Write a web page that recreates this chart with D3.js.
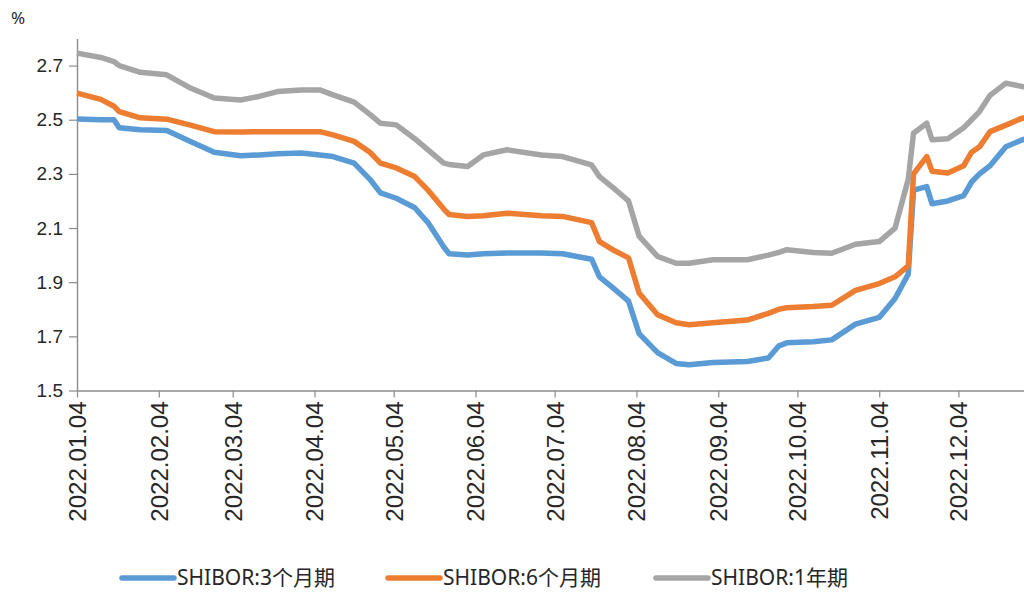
<!DOCTYPE html>
<html>
<head>
<meta charset="utf-8">
<script src="https://cdn.jsdelivr.net/npm/d3@7"></script>
<style>
  body { margin: 0; background: #fff; }
  svg { display: block; font-family: "Noto Sans", "Noto Sans CJK SC", sans-serif; }
</style>
</head>
<body>
<svg id="chart" width="1024" height="594"></svg>
<script>
// observation dates (sampled from the chart)
const dates = [
  "2022-01-04", "2022-01-13", "2022-01-18", "2022-01-20", "2022-01-28", "2022-02-07",
  "2022-02-16", "2022-02-25", "2022-03-07", "2022-03-14", "2022-03-21", "2022-03-30",
  "2022-04-06", "2022-04-11", "2022-04-19", "2022-04-25", "2022-04-29", "2022-05-05",
  "2022-05-12", "2022-05-17", "2022-05-23", "2022-05-25", "2022-06-01", "2022-06-07",
  "2022-06-16", "2022-06-29", "2022-07-07", "2022-07-18", "2022-07-21", "2022-07-26",
  "2022-08-01", "2022-08-05", "2022-08-12", "2022-08-19", "2022-08-24", "2022-09-02",
  "2022-09-15", "2022-09-23", "2022-09-27", "2022-09-30", "2022-10-10", "2022-10-17",
  "2022-10-26", "2022-11-04", "2022-11-10", "2022-11-15", "2022-11-17", "2022-11-22",
  "2022-11-24", "2022-11-30", "2022-12-06", "2022-12-09", "2022-12-12", "2022-12-16",
  "2022-12-22", "2022-12-28", "2022-12-30"
];

const shibor3m = [
  2.503, 2.50, 2.50, 2.47, 2.463, 2.46,
  2.42, 2.38, 2.367, 2.37, 2.374, 2.377,
  2.37, 2.364, 2.34, 2.28, 2.23, 2.21,
  2.175, 2.12, 2.03, 2.005, 2.00, 2.005,
  2.008, 2.008, 2.005, 1.985, 1.92, 1.88,
  1.83, 1.71, 1.64, 1.60, 1.595, 1.603,
  1.607, 1.62, 1.665, 1.676, 1.68, 1.687,
  1.745, 1.77, 1.84, 1.93, 2.24, 2.253,
  2.19, 2.20, 2.22, 2.27, 2.30, 2.33,
  2.40, 2.425, 2.43
];

const shibor6m = [
  2.598, 2.575, 2.55, 2.53, 2.507, 2.502,
  2.48, 2.456, 2.455, 2.456, 2.456, 2.456,
  2.456, 2.444, 2.42, 2.38, 2.34, 2.322,
  2.29, 2.24, 2.17, 2.15, 2.143, 2.145,
  2.155, 2.145, 2.143, 2.12, 2.05, 2.02,
  1.99, 1.86, 1.78, 1.75, 1.743, 1.75,
  1.76, 1.785, 1.80, 1.806, 1.81, 1.815,
  1.87, 1.895, 1.92, 1.96, 2.30, 2.364,
  2.31, 2.303, 2.33, 2.38, 2.40, 2.456,
  2.48, 2.505, 2.51
];

const shibor1y = [
  2.746, 2.73, 2.715, 2.70, 2.675, 2.666,
  2.617, 2.58, 2.573, 2.586, 2.604, 2.61,
  2.61, 2.592, 2.565, 2.52, 2.487, 2.481,
  2.43, 2.389, 2.34, 2.335, 2.327, 2.37,
  2.389, 2.37, 2.364, 2.333, 2.29, 2.25,
  2.20, 2.07, 1.995, 1.97, 1.97, 1.983,
  1.983, 2.00, 2.01, 2.02, 2.01, 2.007,
  2.04, 2.05, 2.10, 2.28, 2.45, 2.487,
  2.426, 2.43, 2.47, 2.50, 2.53, 2.59,
  2.635, 2.623, 2.62
];

const xTickLabels = [
  "2022.01.04", "2022.02.04", "2022.03.04", "2022.04.04", "2022.05.04", "2022.06.04",
  "2022.07.04", "2022.08.04", "2022.09.04", "2022.10.04", "2022.11.04", "2022.12.04"
];
const yTicks = [1.5, 1.7, 1.9, 2.1, 2.3, 2.5, 2.7];

const seriesNames = ["SHIBOR:3个月期", "SHIBOR:6个月期", "SHIBOR:1年期"];
const seriesColors = ["#5b9bd5", "#ed7d31", "#a5a5a5"];

const parseDate = d3.timeParse("%Y-%m-%d");
const parseTick = d3.timeParse("%Y.%m.%d");

const svg = d3.select("#chart");

const x = d3.scaleTime()
  .domain([parseDate("2022-01-04"), parseDate("2022-12-30")])
  .range([77, 1027]);

const y = d3.scaleLinear()
  .domain([1.5, 2.8])
  .range([390.5, 38.5]);

// axes
const xAxis = d3.axisBottom(x)
  .tickValues(xTickLabels.map(parseTick))
  .tickFormat(d3.timeFormat("%Y.%m.%d"))
  .tickSize(7)
  .tickSizeOuter(0);

const yAxis = d3.axisLeft(y)
  .tickValues(yTicks)
  .tickFormat(d3.format(".1f"))
  .tickSize(8)
  .tickSizeOuter(0);

function styleAxis(g) {
  g.select(".domain").attr("stroke", "#8c8c8c").attr("stroke-width", 1.4);
  g.selectAll(".tick line").attr("stroke", "#8c8c8c").attr("stroke-width", 1.2);
  g.selectAll("text").attr("fill", "#262626");
}

const gx = svg.append("g")
  .attr("transform", "translate(0,390.5)")
  .call(xAxis)
  .call(styleAxis);

gx.selectAll("text")
  .attr("font-size", 24)
  .attr("transform", "rotate(-90)")
  .attr("text-anchor", "end")
  .attr("x", -11)
  .attr("y", 0)
  .attr("dy", "0.35em");

const gy = svg.append("g")
  .attr("transform", "translate(77,0)")
  .call(yAxis)
  .call(styleAxis);

gy.selectAll("text")
  .attr("font-size", 19)
  .attr("x", -14);

// unit
svg.append("text")
  .attr("x", 11)
  .attr("y", 24)
  .attr("font-size", 17)
  .attr("fill", "#262626")
  .text("%");

// lines
const seriesValues = [shibor3m, shibor6m, shibor1y];
const line = d3.line()
  .x(d => x(d.date))
  .y(d => y(d.value));

seriesValues.forEach((values, i) => {
  const data = dates.map((d, j) => ({ date: parseDate(d), value: values[j] }));
  svg.append("path")
    .datum(data)
    .attr("fill", "none")
    .attr("stroke", seriesColors[i])
    .attr("stroke-width", 5.5)
    .attr("stroke-linejoin", "round")
    .attr("d", line);
});

// legend
const legendX = [122, 388, 656];
const legend = svg.append("g").attr("transform", "translate(0,578)");
seriesNames.forEach((name, i) => {
  legend.append("line")
    .attr("x1", legendX[i])
    .attr("x2", legendX[i] + 52)
    .attr("stroke", seriesColors[i])
    .attr("stroke-width", 5.5)
    .attr("stroke-linecap", "round");
  legend.append("text")
    .attr("x", legendX[i] + 55)
    .attr("dy", "0.35em")
    .attr("font-size", 21)
    .attr("fill", "#262626")
    .text(name);
});
</script>
</body>
</html>
